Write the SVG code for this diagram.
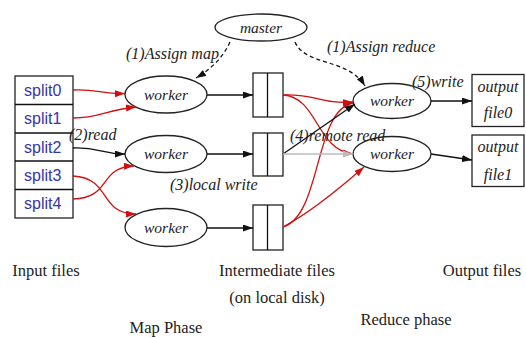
<svg xmlns="http://www.w3.org/2000/svg" width="526" height="338" viewBox="0 0 526 338">
<style>
.sh{fill:#fff;stroke:#222;stroke-width:1.3}
.it{font-family:"Liberation Serif",serif;font-style:italic;font-size:15.5px;fill:#222}
.lb{font-size:16px}
.rg{font-family:"Liberation Serif",serif;font-size:16.5px;fill:#222}
.sp{font-family:"Liberation Sans",Arial,sans-serif;font-size:16px;fill:#3535b0}
.k{fill:none;stroke:#111;stroke-width:1.3}
.r{fill:none;stroke:#d01010;stroke-width:1.3}
.g{fill:none;stroke:#bbb;stroke-width:1.3}
.d{fill:none;stroke:#111;stroke-width:1.3;stroke-dasharray:4,3}
</style>
<defs>
<marker id="ak" markerWidth="11" markerHeight="8" refX="10" refY="3.5" orient="auto" markerUnits="userSpaceOnUse"><path d="M0,0 L10,3.5 L0,7 z" fill="#111"/></marker>
<marker id="ar" markerWidth="11" markerHeight="8" refX="10" refY="3.5" orient="auto" markerUnits="userSpaceOnUse"><path d="M0,0 L10,3.5 L0,7 z" fill="#d01010"/></marker>
<marker id="ag" markerWidth="11" markerHeight="8" refX="10" refY="3.5" orient="auto" markerUnits="userSpaceOnUse"><path d="M0,0 L10,3.5 L0,7 z" fill="#bbb"/></marker>
</defs>

<g id="inputs">
<rect class="sh" x="15" y="76" width="58" height="142"/>
<line class="k" x1="15" y1="104.5" x2="73" y2="104.5"/>
<line class="k" x1="15" y1="133" x2="73" y2="133"/>
<line class="k" x1="15" y1="161" x2="73" y2="161"/>
<line class="k" x1="15" y1="189.5" x2="73" y2="189.5"/>
<text class="sp" x="24" y="96">split0</text>
<text class="sp" x="24" y="124">split1</text>
<text class="sp" x="24" y="153">split2</text>
<text class="sp" x="24" y="181">split3</text>
<text class="sp" x="24" y="209">split4</text>
</g>

<g id="master"><ellipse class="sh" cx="261" cy="27.5" rx="46" ry="13.5"/><text class="it" x="261" y="32.5" text-anchor="middle">master</text></g>

<g id="worker1"><ellipse class="sh" cx="166" cy="94.5" rx="41" ry="18.5"/><text class="it" x="166" y="99.5" text-anchor="middle">worker</text></g>
<g id="worker2"><ellipse class="sh" cx="166" cy="154" rx="41" ry="18.5"/><text class="it" x="166" y="159" text-anchor="middle">worker</text></g>
<g id="worker3"><ellipse class="sh" cx="166" cy="227.5" rx="41" ry="19"/><text class="it" x="166" y="232.5" text-anchor="middle">worker</text></g>

<g id="inter1"><rect class="sh" x="253" y="73" width="30" height="44"/><line class="k" x1="267.5" y1="73" x2="267.5" y2="117"/></g>
<g id="inter2"><rect class="sh" x="253" y="133" width="30" height="43"/><line class="k" x1="267.5" y1="133" x2="267.5" y2="176"/></g>
<g id="inter3"><rect class="sh" x="253" y="205" width="30" height="45"/><line class="k" x1="267.5" y1="205" x2="267.5" y2="250"/></g>

<g id="rworker1"><ellipse class="sh" cx="392" cy="101" rx="39" ry="17.5"/><text class="it" x="392" y="106" text-anchor="middle">worker</text></g>
<g id="rworker2"><ellipse class="sh" cx="392" cy="154" rx="39" ry="17.5"/><text class="it" x="392" y="159" text-anchor="middle">worker</text></g>

<g id="output0"><rect class="sh" x="472" y="74.5" width="52" height="52"/><text class="it lb" x="498" y="92" text-anchor="middle">output</text><text class="it lb" x="498" y="118" text-anchor="middle">file0</text></g>
<g id="output1"><rect class="sh" x="472" y="135" width="52" height="51.5"/><text class="it lb" x="498" y="152" text-anchor="middle">output</text><text class="it lb" x="498" y="180" text-anchor="middle">file1</text></g>

<g id="connectors">
<path class="d" d="M230,42 Q220,64 196,78" marker-end="url(#ak)"/>
<path class="d" d="M295,42 C305,66 348,58 365,86" marker-end="url(#ak)"/>
<path class="r" d="M73,90 C98,89 100,94 125,93.5" marker-end="url(#ar)"/>
<path class="r" d="M73,118 C100,118 105,110 136,107" marker-end="url(#ar)"/>
<path class="k" d="M73,148 C100,147 100,154 125,154" marker-end="url(#ak)"/>
<path class="r" d="M73,176 C112,178 98,214 136,214" marker-end="url(#ar)"/>
<path class="r" d="M73,199 C112,198 98,167 134,166" marker-end="url(#ar)"/>
<path class="k" d="M207,95 L253,95" marker-end="url(#ak)"/>
<path class="k" d="M207,154 L253,154" marker-end="url(#ak)"/>
<path class="k" d="M207,228 L253,228" marker-end="url(#ak)"/>
<path class="r" d="M283,95 C318,94 320,104 353,102" marker-end="url(#ar)"/>
<path class="r" d="M283,95 C318,97 316,150 353,154" marker-end="url(#ar)"/>
<path class="r" d="M283,227 C322,215 314,110 353,103" marker-end="url(#ar)"/>
<path class="r" d="M283,227 Q315,210 364,167" marker-end="url(#ar)"/>
<path class="k" d="M283,154 L355,104" marker-end="url(#ak)"/>
<path class="g" d="M283,154 L353,154" marker-end="url(#ag)"/>
<path class="k" d="M431,101 L472,101" marker-end="url(#ak)"/>
<path class="k" d="M431,154 L472,160" marker-end="url(#ak)"/>
</g>

<g id="labels">
<text class="it lb" x="126" y="59">(1)Assign map</text>
<text class="it lb" x="327" y="52">(1)Assign reduce</text>
<text class="it lb" x="412" y="87">(5)write</text>
<text class="it lb" x="290" y="141">(4)remote read</text>
<text class="it lb" x="69" y="140">(2)read</text>
<text class="it lb" x="170" y="190">(3)local write</text>
<text class="rg" x="46" y="276" text-anchor="middle">Input files</text>
<text class="rg" x="277" y="276" text-anchor="middle">Intermediate files</text>
<text class="rg" x="277" y="303" text-anchor="middle">(on local disk)</text>
<text class="rg" x="166" y="333" text-anchor="middle">Map Phase</text>
<text class="rg" x="406" y="325" text-anchor="middle">Reduce phase</text>
<text class="rg" x="482" y="276" text-anchor="middle">Output files</text>
</g>
</svg>
